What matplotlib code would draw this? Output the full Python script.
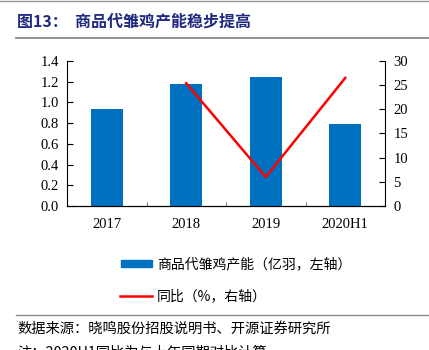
import matplotlib
matplotlib.use("Agg")
import matplotlib.pyplot as plt
from matplotlib.lines import Line2D
from matplotlib.patches import Rectangle

categories = ["2017", "2018", "2019", "2020H1"]
capacity = [0.935, 1.178, 1.245, 0.79]          # 亿羽, left axis
yoy_cats = ["2018", "2019", "2020H1"]
yoy = [25.4, 6.0, 26.5]                         # %, right axis
left_ticks = [0.0, 0.2, 0.4, 0.6, 0.8, 1.0, 1.2, 1.4]
right_ticks = [0, 5, 10, 15, 20, 25, 30]

title = "图13：  商品代雏鸡产能稳步提高"
legend_bar = "商品代雏鸡产能（亿羽，左轴）"
legend_line = "同比（%，右轴）"
source = "数据来源：晓鸣股份招股说明书、开源证券研究所"
note = "注：2020H1同比为与上年同期对比计算"

CJK = ["Noto Sans CJK SC", "DejaVu Sans"]
SERIF = ["Liberation Serif", "DejaVu Serif"]

W, H = 429, 350
fig = plt.figure(figsize=(W / 100, H / 100), dpi=100)

def fx(px):
    return px / W

def fy(py):
    return 1 - py / H

# top rule
fig.add_artist(Line2D([0, 1], [fy(0.5), fy(0.5)], color="#999999", lw=1.0))
# title
fig.text(fx(17), fy(22), title, family=CJK, fontsize=11.5, fontweight="bold",
         color="#1F2A80", va="center", ha="left")
# rule under title
fig.add_artist(Line2D([fx(16), 1], [fy(38), fy(38)], color="#888888", lw=1.3))

ax = fig.add_axes([fx(67), fy(206), fx(385 - 67), (206 - 61) / H])
x = list(range(len(categories)))
ax.bar(x, capacity, width=0.4, color="#0070C0", zorder=2)
ax.set_xlim(-0.5, len(categories) - 0.5)
ax.set_ylim(0, 1.4)
ax.set_yticks(left_ticks)
ax.set_yticklabels([f"{v:.1f}" for v in left_ticks], family=SERIF, fontsize=10.5)
ax.set_xticks(x)
ax.set_xticklabels(categories, family=SERIF, fontsize=10.5)
ax.tick_params(axis="x", length=0, pad=9)
ax.set_xticks([i + 0.5 for i in range(len(categories) - 1)], minor=True)
ax.tick_params(axis="x", which="minor", direction="in", length=3, color="#555555")
ax.tick_params(axis="y", direction="in", length=4, pad=6)
ax.spines["top"].set_visible(False)
ax.spines["right"].set_visible(False)

ax2 = ax.twinx()
xi = [categories.index(c) for c in yoy_cats]
ax2.plot(xi, yoy, color="#FF0000", lw=1.8, zorder=3)
ax2.set_ylim(0, 30)
ax2.set_yticks(right_ticks)
ax2.set_yticklabels([str(v) for v in right_ticks], family=SERIF, fontsize=10.5)
ax2.tick_params(axis="y", direction="in", length=4, pad=6)
ax2.spines["top"].set_visible(False)
ax2.spines["left"].set_visible(False)

# legend (manual)
fig.add_artist(Rectangle((fx(121), fy(267)), fx(31), 7 / H, color="#0070C0",
                         transform=fig.transFigure))
fig.text(fx(157), fy(264), legend_bar, family=CJK, fontsize=10, va="center", ha="left")
fig.add_artist(Line2D([fx(120), fx(152)], [fy(296), fy(296)], color="#FF0000", lw=1.8))
fig.text(fx(157), fy(296), legend_line, family=CJK, fontsize=10, va="center", ha="left")

# source rule and text
fig.add_artist(Line2D([fx(16), 1], [fy(315), fy(315)], color="#888888", lw=1.0))
fig.text(fx(17), fy(329), source, family=CJK, fontsize=10.3, va="center", ha="left")
fig.text(fx(17), fy(353), note, family=CJK, fontsize=10.3, va="center", ha="left")

fig.savefig("out.png", dpi=100)
